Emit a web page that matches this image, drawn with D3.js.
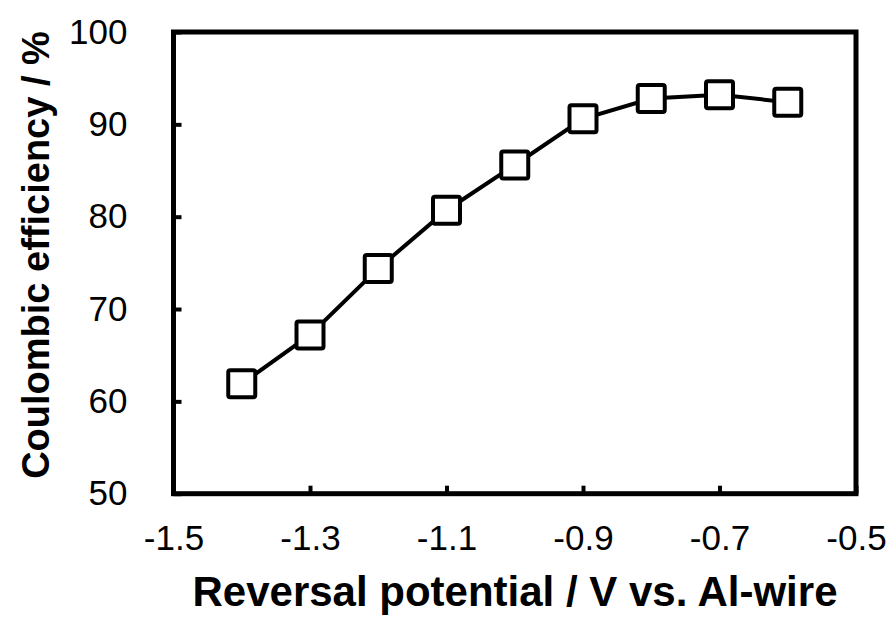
<!DOCTYPE html>
<html>
<head>
<meta charset="utf-8">
<script src="https://cdn.jsdelivr.net/npm/d3@7"></script>
<style>
  html, body { margin: 0; padding: 0; background: #fff; }
  svg { display: block; }
  text { font-family: "Liberation Sans", Arial, sans-serif; fill: #000; }
</style>
</head>
<body>
<script>
// Coulombic efficiency vs. reversal potential
const potentials = [-1.4, -1.3, -1.2, -1.1, -1.0, -0.9, -0.8, -0.7, -0.6];
const efficiency = [61.9, 67.2, 74.4, 80.7, 85.6, 90.6, 92.8, 93.2, 92.4];
const xTicks = [-1.5, -1.3, -1.1, -0.9, -0.7, -0.5];
const yTicks = [50, 60, 70, 80, 90, 100];
const xTitle = "Reversal potential / V vs. Al-wire";
const yTitle = "Coulombic efficiency / %";

const W = 893, H = 621;
const plot = { left: 173.5, right: 856, top: 32, bottom: 493.7 };

const svg = d3.select("body").append("svg")
  .attr("width", W).attr("height", H);

const x = d3.scaleLinear().domain([-1.5, -0.5]).range([plot.left, plot.right]);
const y = d3.scaleLinear().domain([50, 100]).range([plot.bottom, plot.top]);

// plain hyphen for negative numbers
const fmtX = d => d.toFixed(1);

// inward ticks on bottom and left
const xAxis = svg.append("g")
  .attr("transform", `translate(0,${plot.bottom})`)
  .call(d3.axisBottom(x).tickValues(xTicks).tickSizeInner(-8).tickSizeOuter(0)
    .tickFormat(fmtX));
const yAxis = svg.append("g")
  .attr("transform", `translate(${plot.left},0)`)
  .call(d3.axisLeft(y).tickValues(yTicks).tickSizeInner(-8).tickSizeOuter(0)
    .tickFormat(d3.format("d")));

[xAxis, yAxis].forEach(g => {
  g.select(".domain").remove();
  g.selectAll(".tick line").attr("stroke", "#000").attr("stroke-width", 4);
  g.selectAll(".tick text").style("font-size", "35px").attr("fill", "#000");
});
xAxis.selectAll(".tick text").attr("y", 31).attr("dy", "0.71em");
yAxis.selectAll(".tick text").attr("x", -46);

// plot frame
svg.append("rect")
  .attr("x", plot.left).attr("y", plot.top)
  .attr("width", plot.right - plot.left).attr("height", plot.bottom - plot.top)
  .attr("fill", "none").attr("stroke", "#000").attr("stroke-width", 5);

const pts = potentials.map((p, i) => [p, efficiency[i]]);

svg.append("path")
  .datum(pts)
  .attr("fill", "none").attr("stroke", "#000").attr("stroke-width", 4)
  .attr("d", d3.line().x(d => x(d[0])).y(d => y(d[1])));

const s = 27;
svg.append("g").selectAll("rect").data(pts).join("rect")
  .attr("x", d => x(d[0]) - s / 2).attr("y", d => y(d[1]) - s / 2)
  .attr("width", s).attr("height", s).attr("rx", 2)
  .attr("fill", "#fff").attr("stroke", "#000").attr("stroke-width", 4);

// axis titles
svg.append("text")
  .attr("x", 515).attr("y", 606)
  .attr("text-anchor", "middle")
  .style("font-size", "42px").style("font-weight", "bold")
  .text(xTitle);

svg.append("text")
  .attr("transform", `translate(49,255) rotate(-90)`)
  .attr("text-anchor", "middle")
  .style("font-size", "38px").style("font-weight", "bold")
  .text(yTitle);
</script>
</body>
</html>
